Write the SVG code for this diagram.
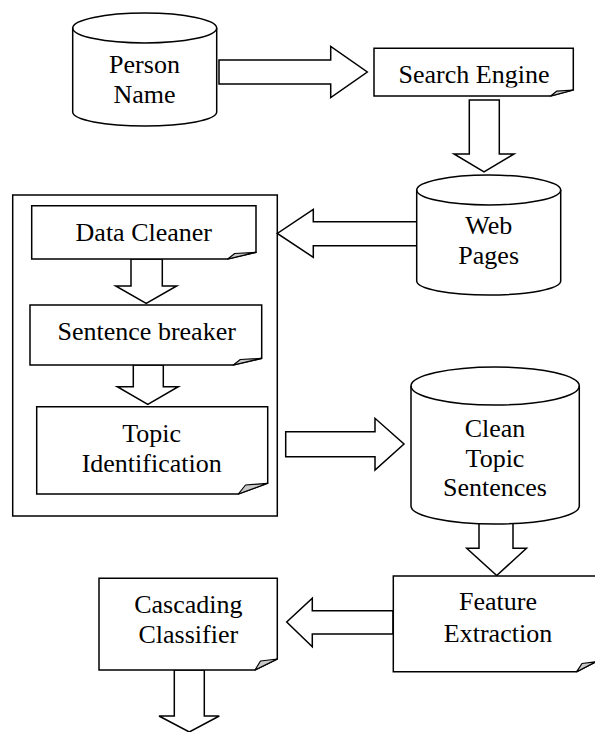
<svg xmlns="http://www.w3.org/2000/svg" width="595" height="732" viewBox="0 0 595 732">
<style>
  .shape { fill: #ffffff; stroke: #000000; stroke-width: 1.5; stroke-linejoin: miter; }
  .frame { fill: none; stroke: #000000; stroke-width: 1.5; }
  .line { fill: none; stroke: #000000; stroke-width: 1.5; }
  .fold { fill: #c8c8c8; stroke: #000000; stroke-width: 1.2; stroke-linejoin: round; }
  .arrow { fill: #ffffff; stroke: #000000; stroke-width: 1.5; stroke-linejoin: miter; }
  .lbl { font-size: 26px; fill: #000000; text-anchor: middle; }
</style>
<defs>
  <clipPath id="clipSearch"><rect x="374" y="48" width="200" height="39.5"/></clipPath>
</defs>
<rect x="0" y="0" width="595" height="732" fill="#ffffff"/>

<g id="connectors">
  <polygon class="arrow" points="219,60 330.7,60 330.7,46.5 367.3,72 330.7,97.5 330.7,84 219,84"/>
  <polygon class="arrow" points="469.3,100 499.3,100 499.3,154 514,154 484,172 454,154 469.3,154"/>
  <polygon class="arrow" points="425,221.7 313.3,221.7 313.3,209.3 277.3,233.5 313.3,257.3 313.3,245.7 425,245.7"/>
  <polygon class="arrow" points="131,259 162.3,259 162.3,286 176.7,286 146.2,303.3 115.7,286 131,286"/>
  <polygon class="arrow" points="133.3,365 163.3,365 163.3,386.7 178.3,386.7 147.8,404.3 117.3,386.7 133.3,386.7"/>
  <polygon class="arrow" points="285.7,431.7 375,431.7 375,418.3 404,444 375,470 375,456.7 285.7,456.7"/>
  <polygon class="arrow" points="479,512 513,512 513,548.3 526.5,548.3 496.7,575.5 466.7,548.3 479,548.3"/>
  <polygon class="arrow" points="393,610.7 312.3,610.7 312.3,598.3 286.7,622 312.3,646.7 312.3,634 393,634"/>
  <polygon class="arrow" points="174.3,670 204.3,670 204.3,716 219.3,716 189.3,732 159,716 174.3,716"/>
</g>

<g font-family="Liberation Serif, serif">
<g id="person-name">
  <path class="shape" d="M72.7,28 A72,15 0 0 1 216.7,28 L216.7,112 A72,14 0 0 1 72.7,112 Z"/>
  <path class="line" d="M72.7,28 A72,15 0 0 0 216.7,28"/>
  <text class="lbl" x="144.5" y="73">Person</text>
  <text class="lbl" x="144.5" y="103">Name</text>
</g>

<g id="search-engine">
  <path class="shape" d="M374,48.3 L573.3,48.3 L573.3,90 L550.7,96 L374,96 Z"/>
  <path class="fold" d="M550.7,96 L573.3,90 L556.5,91.2 Z"/>
  <text class="lbl" x="474" y="83" clip-path="url(#clipSearch)">Search Engine</text>
</g>

<g id="web-pages">
  <path class="shape" d="M416.7,190 A72,15 0 0 1 560.7,190 L560.7,281 A72,14 0 0 1 416.7,281 Z"/>
  <path class="line" d="M416.7,190 A72,15 0 0 0 560.7,190"/>
  <text class="lbl" x="488.7" y="234">Web</text>
  <text class="lbl" x="488.7" y="264">Pages</text>
</g>

<g id="preprocessing-container">
  <rect class="frame" x="12.7" y="195" width="264.6" height="321"/>
</g>

<g id="data-cleaner">
  <path class="shape" d="M31.7,205.7 L256,205.7 L256,252.3 L227.7,259 L31.7,259 Z"/>
  <path class="fold" d="M227.7,259 L256,252.3 L234.7,253.5 Z"/>
  <text class="lbl" x="143.8" y="240.7">Data Cleaner</text>
</g>

<g id="sentence-breaker">
  <path class="shape" d="M30,305 L261.7,305 L261.7,358.3 L233.3,365 L30,365 Z"/>
  <path class="fold" d="M233.3,365 L261.7,358.3 L240.3,359.5 Z"/>
  <text class="lbl" x="146.7" y="340">Sentence breaker</text>
</g>

<g id="topic-identification">
  <path class="shape" d="M36.7,406.7 L267.7,406.7 L267.7,483.3 L238.3,494 L36.7,494 Z"/>
  <path class="fold" d="M238.3,494 L267.7,483.3 L245.5,485 Z"/>
  <text class="lbl" x="151.7" y="441.7">Topic</text>
  <text class="lbl" x="151.7" y="471.7">Identification</text>
</g>

<g id="clean-topic-sentences">
  <path class="shape" d="M411,386 A84.15,19 0 0 1 579.3,386 L579.3,506 A84.15,18 0 0 1 411,506 Z"/>
  <path class="line" d="M411,386 A84.15,19 0 0 0 579.3,386"/>
  <text class="lbl" x="495" y="437.3">Clean</text>
  <text class="lbl" x="495" y="466.7">Topic</text>
  <text class="lbl" x="495" y="496">Sentences</text>
</g>

<g id="feature-extraction">
  <path class="shape" d="M393.3,576 L596,576 L596,661.7 L576.7,671.7 L393.3,671.7 Z"/>
  <path class="fold" d="M576.7,671.7 L596,661.7 L582,663.5 Z"/>
  <text class="lbl" x="498" y="610">Feature</text>
  <text class="lbl" x="498" y="641.7">Extraction</text>
</g>

<g id="cascading-classifier">
  <path class="shape" d="M99,578.3 L277.3,578.3 L277.3,659 L255,670 L99,670 Z"/>
  <path class="fold" d="M255,670 L277.3,659 L260.5,661 Z"/>
  <text class="lbl" x="188.3" y="613.3">Cascading</text>
  <text class="lbl" x="188.3" y="643.3">Classifier</text>
</g>
</g>
</svg>
